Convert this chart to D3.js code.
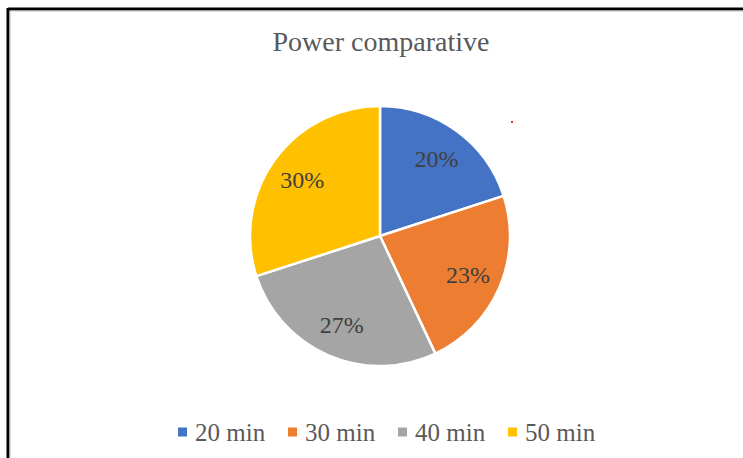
<!DOCTYPE html>
<html>
<head>
<meta charset="utf-8">
<script src="https://cdn.jsdelivr.net/npm/d3@7/dist/d3.min.js"></script>
<style>
  html, body { margin: 0; padding: 0; background: #fff; }
  svg { display: block; }
</style>
</head>
<body>
<svg id="chart" width="743" height="458"></svg>
<script>
// Share of power for each duration
const categories = ["20 min", "30 min", "40 min", "50 min"];
const values = [20, 23, 27, 30];
const colors = ["#4472C4", "#ED7D31", "#A5A5A5", "#FFC000"];
const title = "Power comparative";

const W = 743, H = 458;
const svg = d3.select("#chart");
const serif = "'Liberation Serif', 'Times New Roman', serif";

// Frame edges (top and left)
svg.append("line").attr("x1", 8).attr("x2", W).attr("y1", 9).attr("y2", 9)
  .attr("stroke", "#000").attr("stroke-width", 3);
svg.append("line").attr("x1", 8).attr("x2", 8).attr("y1", 8).attr("y2", H)
  .attr("stroke", "#000").attr("stroke-width", 3);
svg.append("line").attr("x1", 10).attr("x2", W).attr("y1", 11).attr("y2", 11)
  .attr("stroke", "#bbb").attr("stroke-width", 1);
svg.append("line").attr("x1", 10).attr("x2", 10).attr("y1", 11).attr("y2", H)
  .attr("stroke", "#bbb").attr("stroke-width", 1);

// Title
svg.append("text")
  .attr("x", 381).attr("y", 51)
  .attr("text-anchor", "middle")
  .attr("font-family", serif)
  .attr("font-size", 28)
  .attr("fill", "#595959")
  .text(title);

// Pie
const cx = 380, cy = 236, R = 130;
const color = d3.scaleOrdinal().domain(categories).range(colors);
const pie = d3.pie().value(d => d.v).sort(null);
const data = categories.map((c, i) => ({ c, v: values[i] }));
const arcs = pie(data);
const total = d3.sum(values);
const arc = d3.arc().innerRadius(0).outerRadius(R);
const labelArc = d3.arc().innerRadius(96).outerRadius(96);

const g = svg.append("g").attr("transform", `translate(${cx},${cy})`);
g.selectAll("path.slice").data(arcs).join("path")
  .attr("class", "slice")
  .attr("d", arc)
  .attr("fill", d => color(d.data.c))
  .attr("stroke", "#fff")
  .attr("stroke-width", 2.5)
  .attr("stroke-linejoin", "round");

g.selectAll("text.lbl").data(arcs).join("text")
  .attr("class", "lbl")
  .attr("transform", d => `translate(${labelArc.centroid(d)})`)
  .attr("text-anchor", "middle")
  .attr("dy", "0.35em")
  .attr("font-family", serif)
  .attr("font-size", 24)
  .attr("fill", "#404040")
  .text(d => Math.round(d.data.v / total * 100) + "%");

// Small red marker near the top right of the pie
svg.append("rect").attr("x", 511).attr("y", 121).attr("width", 2).attr("height", 2)
  .attr("fill", "#e33");

// Legend
const legendX = d3.scalePoint().domain(categories).range([178, 508]);
const lg = svg.append("g");
const items = lg.selectAll("g").data(categories).join("g")
  .attr("transform", d => `translate(${legendX(d)},432)`);
items.append("rect")
  .attr("x", 0).attr("y", -4.5).attr("width", 9).attr("height", 9)
  .attr("fill", d => color(d));
items.append("text")
  .attr("x", 17).attr("y", 0).attr("dy", "0.35em")
  .attr("font-family", serif)
  .attr("font-size", 25)
  .attr("fill", "#595959")
  .text(d => d);
</script>
</body>
</html>
